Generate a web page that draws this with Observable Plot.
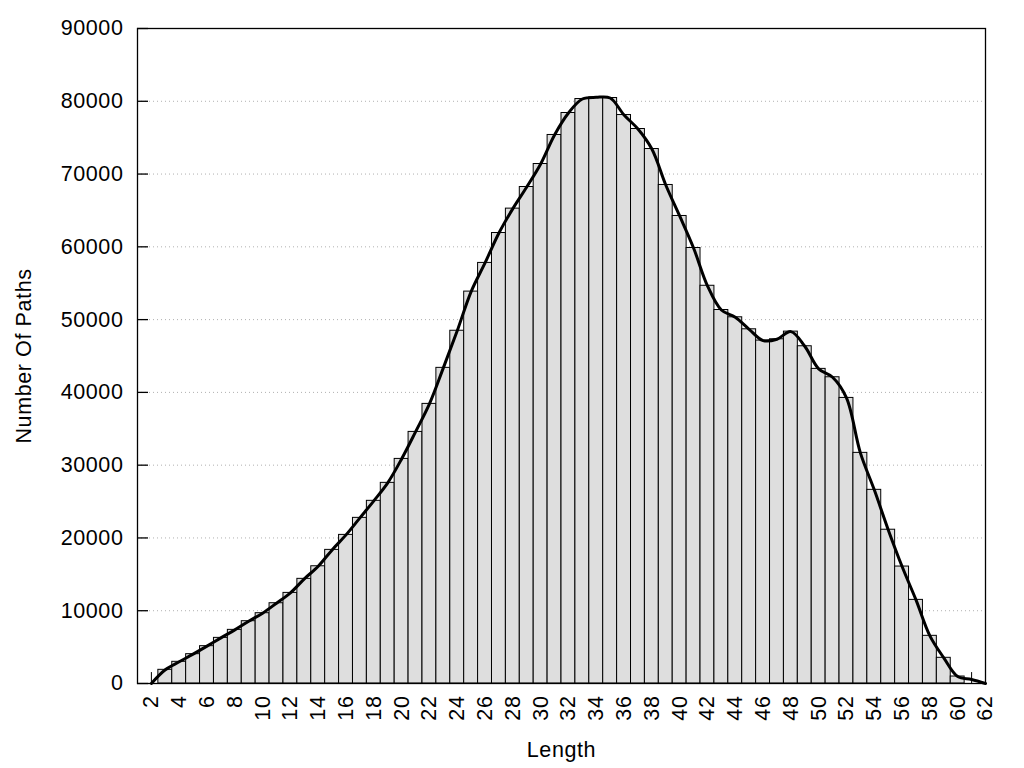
<!DOCTYPE html>
<html>
<head>
<meta charset="utf-8">
<script src="https://cdn.jsdelivr.net/npm/d3@7"></script>
<script src="https://cdn.jsdelivr.net/npm/@observablehq/plot@0.6"></script>
<style>
  html, body { margin: 0; padding: 0; background: white; }
</style>
</head>
<body>
<div id="chart"></div>
<script>
// Bar data: path length -> number of paths
const lengths = [3,4,5,6,7,8,9,10,11,12,13,14,15,16,17,18,19,20,21,22,23,24,25,26,27,28,29,30,31,32,33,34,35,36,37,38,39,40,41,42,43,44,45,46,47,48,49,50,51,52,53,54,55,56,57,58,59,60];
const counts = [1880,2980,4030,5130,6270,7370,8560,9660,11030,12450,14380,16110,18360,20420,22760,25100,27570,30860,34570,38420,43370,48470,53850,57790,61900,65250,68220,71380,75370,78390,80310,80540,80450,78110,76190,73440,68500,64240,59840,54650,51320,50320,48670,47120,47300,48350,46340,43230,42080,39240,31690,26610,21130,16070,11490,6550,3530,960];

// Smoothed curve end points (curve starts and ends at zero)
const curveStartLength = [2];
const curveStartCount = [0];
const curveEndLengths = [61, 62];
const curveEndCounts = [550, 0];

// Short vertical marks at the ends of the distribution
const spikeLengths = [2, 61];
const spikeCounts = [1500, 1500];

// Tick values and axis titles
const xTicks = [2,4,6,8,10,12,14,16,18,20,22,24,26,28,30,32,34,36,38,40,42,44,46,48,50,52,54,56,58,60,62];
const yTicks = [0,10000,20000,30000,40000,50000,60000,70000,80000,90000];
const xTitle = ["Length"];
const yTitle = ["Number Of Paths"];

const bars = lengths.map((x, i) => ({x, y: counts[i]}));
const curveX = [...curveStartLength, ...lengths, ...curveEndLengths];
const curveY = [...curveStartCount, ...counts, ...curveEndCounts];
const curve = curveX.map((x, i) => ({x, y: curveY[i]}));
const spikes = spikeLengths.map((x, i) => ({x, y: spikeCounts[i]}));

const chart = Plot.plot({
  width: 1024,
  height: 768,
  marginLeft: 137,
  marginRight: 39,
  marginTop: 28,
  marginBottom: 85,
  x: {domain: [1, 62]},
  y: {domain: [0, 90000]},
  style: {
    fontFamily: "'Liberation Sans', Arial, sans-serif",
    fontSize: "21.5px",
    letterSpacing: "0.6px",
    background: "white",
    color: "black"
  },
  marks: [
    Plot.gridY(yTicks, {stroke: "#b0b0b0", strokeOpacity: 1, strokeDasharray: "1,3"}),
    Plot.rectY(bars, {x1: d => d.x - 0.5, x2: d => d.x + 0.5, y: "y", fill: "#dedede", stroke: "black", strokeWidth: 1}),
    Plot.ruleX(spikes, {x: "x", y1: 0, y2: "y", stroke: "black", strokeWidth: 1}),
    Plot.line(curve, {x: "x", y: "y", curve: "catmull-rom", stroke: "black", strokeWidth: 3}),
    Plot.tickY(yTicks, {y: d => d, insetRight: 837, stroke: "black", strokeWidth: 1.3}),
    Plot.axisY(yTicks, {tickSize: 0, tickPadding: 14, tickFormat: d => String(d), label: null}),
    Plot.axisX(xTicks, {tickSize: 0, tickPadding: 12, tickRotate: -90, tickFormat: d => String(d), label: null}),
    Plot.text(xTitle, {text: d => d, frameAnchor: "bottom", dy: 66.5, lineAnchor: "middle", fill: "black"}),
    Plot.text(yTitle, {text: d => d, frameAnchor: "left", dx: -113, rotate: -90, textAnchor: "middle", lineAnchor: "middle", fill: "black"}),
    Plot.frame({stroke: "black", strokeWidth: 1.3})
  ]
});
document.getElementById("chart").appendChild(chart);
</script>
</body>
</html>
